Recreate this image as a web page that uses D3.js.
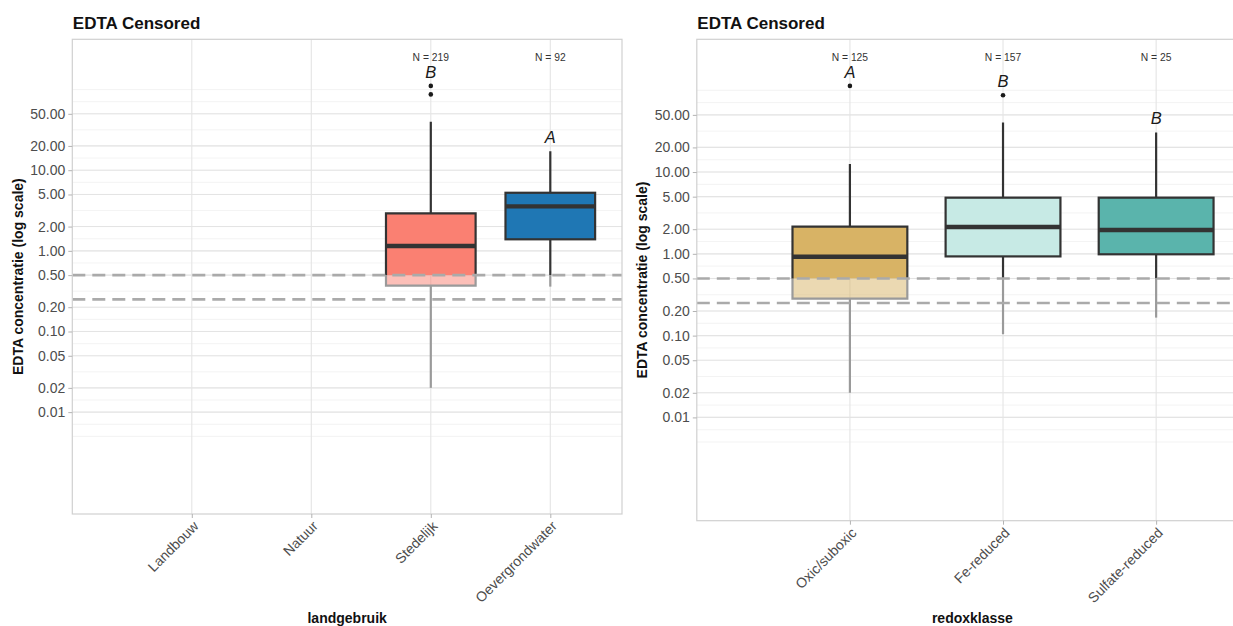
<!DOCTYPE html>
<html>
<head>
<meta charset="utf-8">
<script src="https://cdn.jsdelivr.net/npm/d3@7"></script>
<style>
  html, body { margin: 0; padding: 0; background: #ffffff; }
  svg { display: block; font-family: "Liberation Sans", Arial, Helvetica, sans-serif; }
</style>
</head>
<body>
<svg id="chart" width="1233" height="626"></svg>
<script>
// ---------- DATA ----------
const titleText = "EDTA Censored";
const yAxisTitle = "EDTA concentratie (log scale)";
const yTickValues = [0.01, 0.02, 0.05, 0.1, 0.2, 0.5, 1, 2, 5, 10, 20, 50];
const censorLines = [0.5, 0.25];
const reportLimit = 0.5;

// Left panel: landgebruik
const landCategories = ["Landbouw", "Natuur", "Stedelijk", "Oevergrondwater"];
const landColors     = [null, null, "#FA8072", "#1F77B4"];
const landN          = [null, null, 219, 92];
const landLetters    = [null, null, "B", "A"];
const landLow        = [null, null, 0.02, 0.36];
const landQ1         = [null, null, 0.37, 1.39];
const landMedian     = [null, null, 1.15, 3.56];
const landQ3         = [null, null, 2.91, 5.25];
const landHigh       = [null, null, 39.8, 17.2];
const landOutliers   = [[], [], [87, 111], []];

// Right panel: redoxklasse
const redoxCategories = ["Oxic/suboxic", "Fe-reduced", "Sulfate-reduced"];
const redoxColors     = ["#D8B365", "#C7EAE5", "#5AB4AC"];
const redoxN          = [125, 157, 25];
const redoxLetters    = ["A", "B", "B"];
const redoxLow        = [0.02, 0.104, 0.166];
const redoxQ1         = [0.283, 0.93, 0.987];
const redoxMedian     = [0.92, 2.13, 1.96];
const redoxQ3         = [2.15, 4.86, 4.86];
const redoxHigh       = [12.5, 40.3, 30.4];
const redoxOutliers   = [[113], [87], []];

// ---------- DRAW ----------
const svg = d3.select("#chart");
const yDomain = [Math.pow(10, -3.263), Math.pow(10, 2.623)];
const fmt = d3.format(".2f");

function drawPanel(cfg) {
  const g = svg.append("g");
  const {x0, x1, y0, y1} = cfg;
  const n = cfg.categories.length;
  const step = (x1 - x0) / (n + 0.6);
  const x = d3.scalePoint().domain(cfg.categories).range([x0 + step, x0 + n * step]);
  const y = d3.scaleLog().domain(yDomain).range([y1, y0]);
  const boxW = step * 0.75;

  const clipId = "clip" + cfg.id;
  svg.append("clipPath").attr("id", clipId)
    .append("rect").attr("x", x0).attr("y", y0).attr("width", x1 - x0).attr("height", y1 - y0);
  const plot = g.append("g").attr("clip-path", `url(#${clipId})`);

  // minor breaks (ggplot style: log midpoints, extended one step beyond ends)
  const lb = yTickValues.map(v => Math.log10(v));
  const bd = lb[1] - lb[0];
  const ext = [lb[0] - bd, ...lb, lb[lb.length - 1] + bd];
  const minor = [];
  for (let i = 0; i < ext.length - 1; i++) {
    minor.push(ext[i], (ext[i] + ext[i + 1]) / 2);
  }
  minor.push(ext[ext.length - 1]);
  plot.selectAll(".minor").data(minor).enter().append("line")
    .attr("x1", x0).attr("x2", x1)
    .attr("y1", d => y(Math.pow(10, d))).attr("y2", d => y(Math.pow(10, d)))
    .attr("stroke", "#f0f0f0").attr("stroke-width", 0.8);
  plot.selectAll(".majorY").data(yTickValues).enter().append("line")
    .attr("x1", x0).attr("x2", x1)
    .attr("y1", d => y(d)).attr("y2", d => y(d))
    .attr("stroke", "#e4e4e4").attr("stroke-width", 1.1);
  plot.selectAll(".majorX").data(cfg.categories).enter().append("line")
    .attr("x1", d => x(d)).attr("x2", d => x(d))
    .attr("y1", y0).attr("y2", y1)
    .attr("stroke", "#e4e4e4").attr("stroke-width", 1.1);

  const dark = "#333333", grey = "#9a9a9a";

  cfg.categories.forEach((cat, i) => {
    if (cfg.q1[i] == null) return;
    const cx = x(cat);
    const lo = cfg.low[i], q1 = cfg.q1[i], med = cfg.median[i], q3 = cfg.q3[i], hi = cfg.high[i];
    const L = cx - boxW / 2, R = cx + boxW / 2;
    const yLim = y(reportLimit);

    // upper whisker
    plot.append("line").attr("x1", cx).attr("x2", cx).attr("y1", y(q3)).attr("y2", y(hi))
      .attr("stroke", dark).attr("stroke-width", 2.2);
    // lower whisker: dark above limit, grey below
    if (lo < reportLimit) {
      const topDark = Math.min(q1, Math.max(q1, reportLimit));
      if (q1 > reportLimit) {
        plot.append("line").attr("x1", cx).attr("x2", cx).attr("y1", y(q1)).attr("y2", yLim)
          .attr("stroke", dark).attr("stroke-width", 2.2);
      }
      plot.append("line").attr("x1", cx).attr("x2", cx)
        .attr("y1", y(Math.min(q1, reportLimit))).attr("y2", y(lo))
        .attr("stroke", grey).attr("stroke-width", 2.2);
    } else {
      plot.append("line").attr("x1", cx).attr("x2", cx).attr("y1", y(q1)).attr("y2", y(lo))
        .attr("stroke", dark).attr("stroke-width", 2.2);
    }

    // box upper (uncensored) part
    const bottomVal = Math.max(q1, reportLimit);
    plot.append("rect").attr("x", L).attr("y", y(q3)).attr("width", boxW)
      .attr("height", y(bottomVal) - y(q3)).attr("fill", cfg.colors[i]);
    // censored part
    if (q1 < reportLimit) {
      plot.append("rect").attr("x", L).attr("y", yLim).attr("width", boxW)
        .attr("height", y(q1) - yLim).attr("fill", cfg.colors[i]).attr("fill-opacity", 0.5);
      plot.append("path")
        .attr("d", `M${L},${yLim}L${L},${y(q1)}L${R},${y(q1)}L${R},${yLim}`)
        .attr("fill", "none").attr("stroke", grey).attr("stroke-width", 2.2);
      plot.append("path")
        .attr("d", `M${L},${yLim}L${L},${y(q3)}L${R},${y(q3)}L${R},${yLim}`)
        .attr("fill", "none").attr("stroke", dark).attr("stroke-width", 2.2);
    } else {
      plot.append("rect").attr("x", L).attr("y", y(q3)).attr("width", boxW)
        .attr("height", y(q1) - y(q3)).attr("fill", "none")
        .attr("stroke", dark).attr("stroke-width", 2.2);
    }
    // median
    plot.append("line").attr("x1", L).attr("x2", R).attr("y1", y(med)).attr("y2", y(med))
      .attr("stroke", med >= reportLimit ? dark : grey).attr("stroke-width", 4.4);

    // outliers
    plot.selectAll(null).data(cfg.outliers[i]).enter().append("circle")
      .attr("cx", cx).attr("cy", d => y(d)).attr("r", 2.3).attr("fill", "#1a1a1a");

    // letters
    const top = d3.max([hi, ...cfg.outliers[i]]);
    g.append("text").attr("x", cx).attr("y", y(top) - 8.3)
      .attr("text-anchor", "middle").attr("font-size", 16.5).attr("font-style", "italic")
      .attr("fill", "#1a1a1a").text(cfg.letters[i]);
    // N labels
    g.append("text").attr("x", cx).attr("y", 61.3)
      .attr("text-anchor", "middle").attr("font-size", 10.3)
      .attr("fill", "#333333").text("N = " + cfg.N[i]);
  });

  // censor dashed lines
  plot.selectAll(".cens").data(censorLines).enter().append("line")
    .attr("x1", x0).attr("x2", x1)
    .attr("y1", d => y(d)).attr("y2", d => y(d))
    .attr("stroke", "#aaaaaa").attr("stroke-width", 2.6)
    .attr("stroke-dasharray", "13,7");

  // panel border
  g.append("rect").attr("x", x0).attr("y", y0).attr("width", x1 - x0).attr("height", y1 - y0)
    .attr("fill", "none").attr("stroke", "#d0d0d0").attr("stroke-width", 1.2);

  // y axis
  const yAxis = d3.axisLeft(y).tickValues(yTickValues).tickFormat(fmt).tickSize(4).tickPadding(3);
  const ya = g.append("g").attr("transform", `translate(${x0},0)`).call(yAxis);
  ya.select(".domain").remove();
  ya.selectAll(".tick line").attr("stroke", "#b3b3b3").attr("stroke-width", 1);
  ya.selectAll(".tick text").attr("fill", "#4d4d4d").attr("font-size", 14)
    .attr("font-family", "Liberation Sans, Arial, sans-serif");

  // x axis
  const xAxis = d3.axisBottom(x).tickSize(4).tickPadding(0);
  const xa = g.append("g").attr("transform", `translate(0,${y1})`).call(xAxis);
  xa.select(".domain").remove();
  xa.selectAll(".tick line").attr("stroke", "#b3b3b3").attr("stroke-width", 1);
  xa.selectAll(".tick text")
    .attr("fill", "#4d4d4d").attr("font-size", 14)
    .attr("font-family", "Liberation Sans, Arial, sans-serif")
    .attr("text-anchor", "end")
    .attr("x", 0).attr("y", 0).attr("dy", "0.71em")
    .attr("transform", "translate(0,6) rotate(-45)");

  // titles
  g.append("text").attr("x", x0 + 0.5).attr("y", 29)
    .attr("font-size", 17).attr("font-weight", "bold").attr("fill", "#111")
    .text(titleText);
  g.append("text").attr("transform", `translate(${cfg.yTitleX},${(y0 + y1) / 2}) rotate(-90)`)
    .attr("text-anchor", "middle").attr("font-size", 14).attr("font-weight", "bold")
    .attr("fill", "#111").text(yAxisTitle);
  g.append("text").attr("x", (x0 + x1) / 2).attr("y", 622.5)
    .attr("text-anchor", "middle").attr("font-size", 14).attr("font-weight", "bold")
    .attr("fill", "#111").text(cfg.xTitle);
}

drawPanel({
  id: "L", x0: 72.3, x1: 622, y0: 39.3, y1: 514, yTitleX: 22.5,
  categories: landCategories, colors: landColors, N: landN, letters: landLetters,
  low: landLow, q1: landQ1, median: landMedian, q3: landQ3, high: landHigh,
  outliers: landOutliers, xTitle: "landgebruik"
});
drawPanel({
  id: "R", x0: 696.8, x1: 1248, y0: 39.3, y1: 520.7, yTitleX: 647,
  categories: redoxCategories, colors: redoxColors, N: redoxN, letters: redoxLetters,
  low: redoxLow, q1: redoxQ1, median: redoxMedian, q3: redoxQ3, high: redoxHigh,
  outliers: redoxOutliers, xTitle: "redoxklasse"
});
</script>
</body>
</html>
